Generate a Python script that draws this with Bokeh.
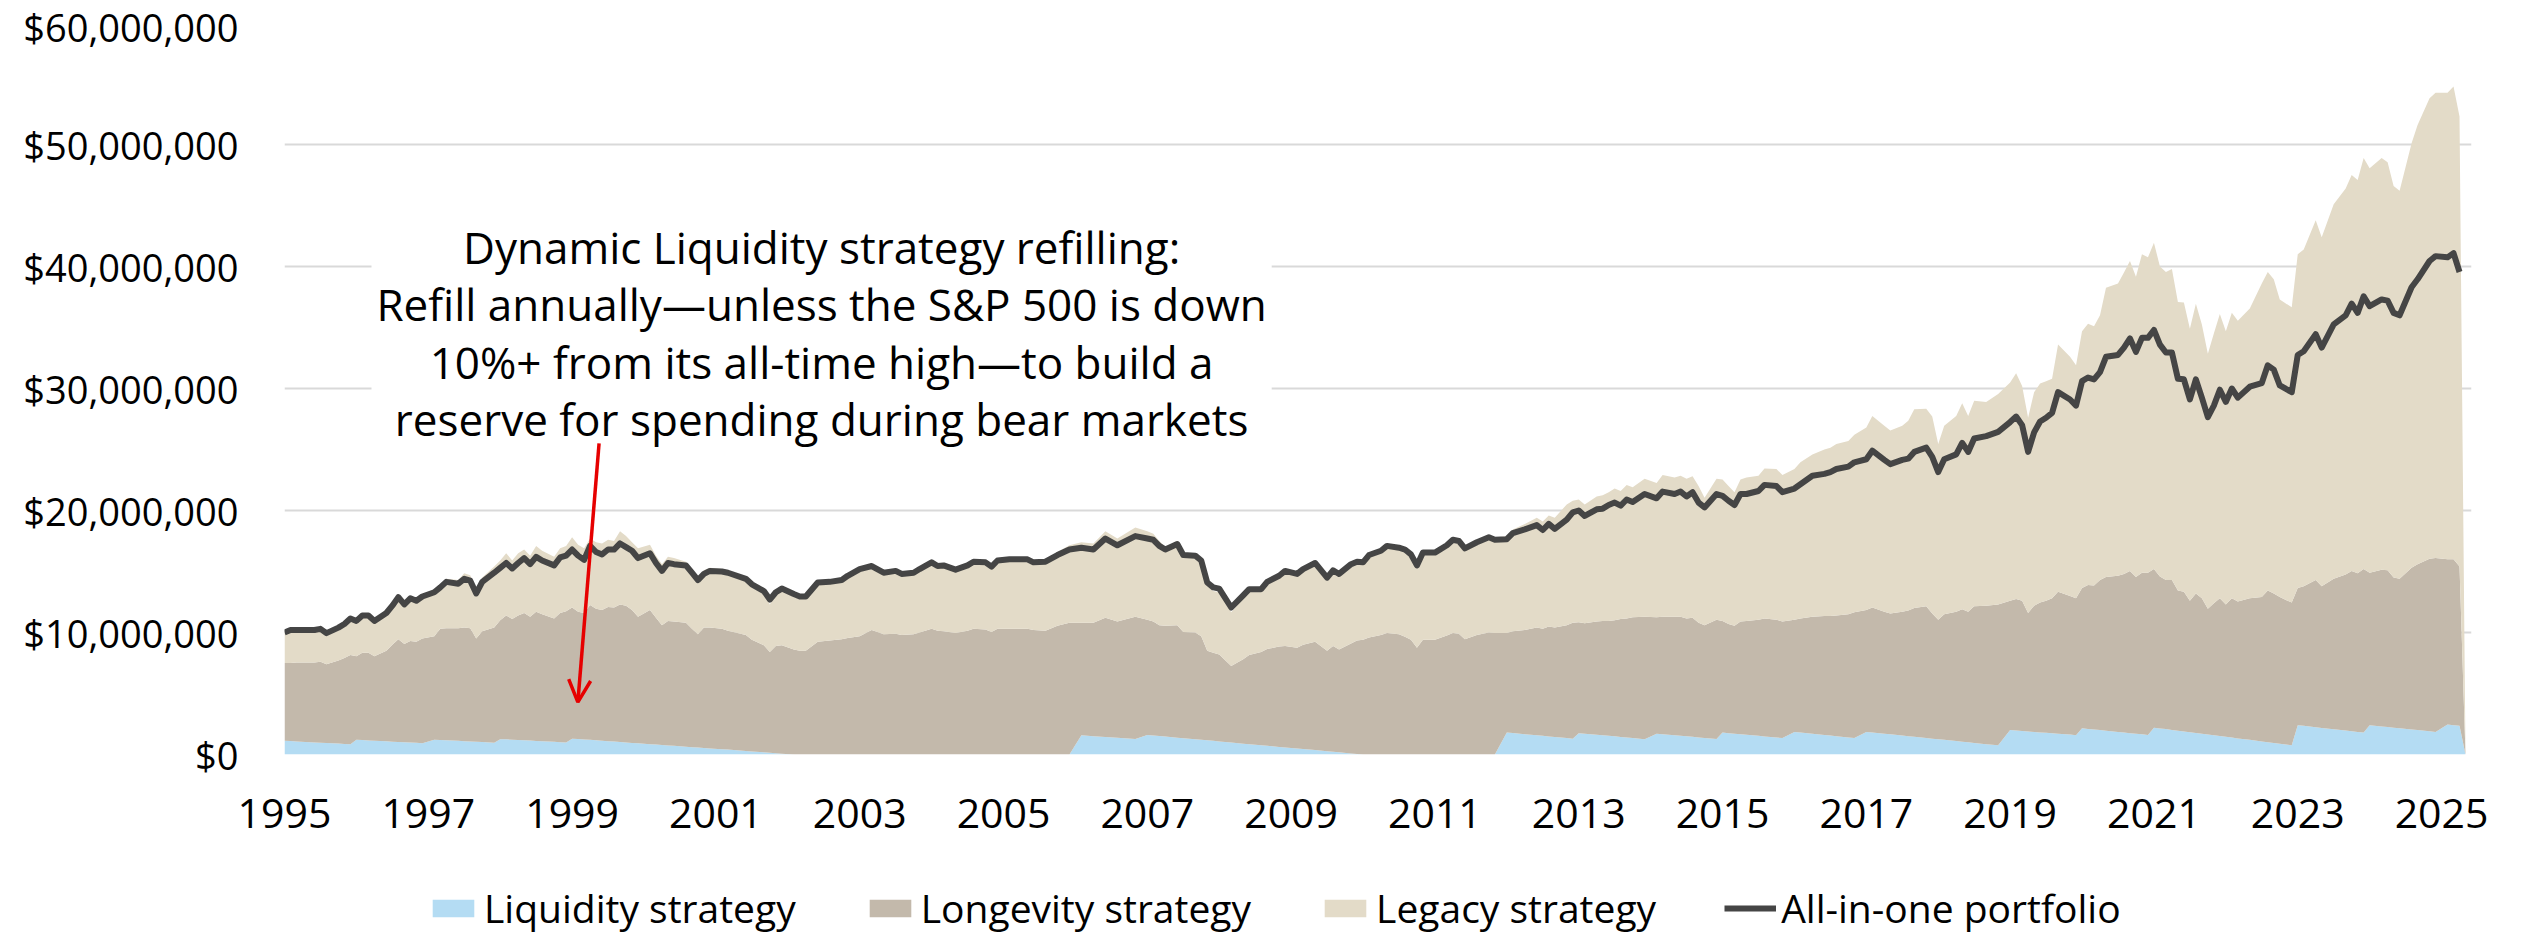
import math
from bokeh.plotting import figure
from bokeh.layouts import column
from bokeh.models import (ColumnDataSource, FixedTicker, Legend, LegendItem, Label,
                          Arrow, OpenHead, BoxAnnotation, Range1d)
from bokeh.embed import file_html
from bokeh.resources import INLINE

NAN = float("nan")

# months since Jan 1995 (read positions)
months = [
    0, 1, 2, 5, 6, 7, 9, 10, 11, 12, 13, 14, 15, 17, 18, 19, 20, 21, 22, 23, 25, 26, 27, 29, 30, 31, 32, 33, 35, 36,
    37, 38, 39, 40, 41, 42, 43, 45, 46, 47, 48, 49, 50, 51, 52, 53, 54, 55, 56, 57, 58, 59, 61, 62, 63, 64, 65, 67, 68, 69,
    70, 71, 73,
    74, 77, 78, 80, 81, 82, 83, 85, 86, 87, 89, 91, 93, 94, 96, 98, 100, 102, 103, 105,
    106, 108, 109, 110, 112, 114, 115, 117, 118, 119, 121, 124, 125, 127, 129, 131, 133, 135, 137, 139,
    142, 144, 145, 146, 147, 149, 150, 152, 153, 154, 155, 156, 158, 160, 161, 163, 164, 166, 167, 169,
    170, 172, 174, 175, 176, 178, 179, 180, 181, 183, 184, 186, 187, 188, 189, 190, 192, 194, 195, 196,
    197, 199, 201, 202, 204, 205, 207, 209, 210, 211, 212, 214, 215, 216, 217, 219,
    220, 221, 222, 223, 224, 225, 227, 229, 230, 232, 233, 234, 235, 236, 237, 239, 240, 241, 242, 243,
    244, 246, 247, 249, 250, 252, 253, 255, 257, 258, 259, 261, 262, 264, 265, 267, 268, 270, 271, 272,
    274, 275, 276, 277, 279, 280, 281, 282, 284, 286, 288, 289, 290, 291, 292, 293,
    294, 295, 296, 298, 299, 300, 301, 302, 303, 304, 306, 307, 308, 309, 310, 311, 312, 313, 314, 315,
    316, 317, 318, 319, 320, 321, 322, 323, 324, 325, 326, 328, 330, 331, 332, 333, 335, 336, 337, 339,
    340, 342, 344, 345, 346, 347, 348, 350, 351, 352, 353, 355, 356, 358, 359, 361, 362, 363, 364,
]

# values in millions of dollars
liquidity = [
    1.12, 1.10, 1.07, 0.99, 0.96, 0.94, 0.90, 0.87, 0.85, 1.20, 1.18, 1.15, 1.13, 1.08, 1.05, 1.03, 1.00, 0.98, 0.96, 0.93,
    1.21, 1.18, 1.16, 1.12, 1.09, 1.07, 1.05, 1.03, 0.97, 1.26, 1.24, 1.21, 1.19, 1.16, 1.14, 1.11, 1.09, 1.04, 1.01, 0.98,
    1.30, 1.27, 1.23, 1.20, 1.16, 1.13, 1.09, 1.06, 1.02, 0.99, 0.95, 0.92, 0.85, 0.81, 0.78, 0.74, 0.71, 0.64, 0.60, 0.57,
    0.53, 0.50, 0.43,
    0.40, 0.29, 0.25, 0.18, 0.14, 0.11, 0.07, 0, 0, 0, 0, 0, 0, 0, 0, 0, 0, 0, 0, 0,
    0, 0, 0, 0, 0, 0, 0, 0, 0, 0, 0, 0, 0, 0, 0, 0, 1.57, 1.50, 1.44, 1.37,
    1.27, 1.60, 1.56, 1.51, 1.47, 1.38, 1.34, 1.25, 1.20, 1.16, 1.12, 1.07, 0.98, 0.89, 0.85, 0.76, 0.71, 0.62, 0.58, 0.49,
    0.45, 0.36, 0.27, 0.22, 0.18, 0.09, 0.04, 0, 0, 0, 0, 0, 0, 0, 0, 0, 0, 0, 0, 0,
    0, 0, 0, 0, 1.80, 1.76, 1.67, 1.58, 1.53, 1.48, 1.44, 1.35, 1.30, 1.75, 1.71, 1.62,
    1.58, 1.53, 1.49, 1.44, 1.40, 1.35, 1.26, 1.71, 1.67, 1.58, 1.54, 1.49, 1.45, 1.40, 1.36, 1.27, 1.80, 1.75, 1.71, 1.66,
    1.62, 1.53, 1.48, 1.39, 1.35, 1.85, 1.80, 1.70, 1.60, 1.55, 1.50, 1.40, 1.35, 1.85, 1.80, 1.70, 1.65, 1.55, 1.50, 1.45,
    1.35, 1.30, 1.25, 1.20, 1.10, 1.05, 1.00, 0.95, 0.85, 0.75, 2.00, 1.97, 1.93, 1.89, 1.85, 1.81,
    1.78, 1.75, 1.71, 1.63, 1.58, 2.15, 2.10, 2.05, 2.00, 1.95, 1.85, 1.80, 1.75, 1.70, 1.65, 1.60, 2.20, 2.14, 2.08, 2.01,
    1.95, 1.89, 1.82, 1.76, 1.70, 1.64, 1.57, 1.51, 1.45, 1.39, 1.32, 1.20, 1.07, 1.01, 0.94, 0.88, 0.75, 2.40, 2.35, 2.24,
    2.18, 2.07, 1.96, 1.91, 1.85, 1.80, 2.40, 2.30, 2.25, 2.20, 2.15, 2.05, 2.00, 1.90, 1.85, 2.45, 2.40, 2.35, 0,
]

longevity = [
    6.38, 6.40, 6.48, 6.56, 6.64, 6.46, 6.80, 7.03, 7.30, 6.85, 7.17, 7.20, 6.92, 7.42, 7.95, 8.42, 8.05, 8.32, 8.29, 8.57,
    8.49, 9.12, 9.19, 9.23, 9.31, 9.28, 8.45, 9.07, 9.43, 9.74, 10.16, 9.89, 10.21, 10.44, 10.16, 10.59, 10.41, 10.11, 10.59, 10.77,
    10.75, 10.43, 10.37, 11.05, 10.79, 10.72, 11.01, 10.99, 11.28, 11.21, 10.90, 10.38, 11.00, 10.39, 9.82, 10.21, 10.19, 10.16, 9.70, 9.28,
    9.87, 9.90, 9.87,
    9.75, 9.51, 9.15, 8.77, 8.26, 8.79, 8.88, 8.60, 8.50, 8.50, 9.25, 9.35, 9.45, 9.55, 9.70, 10.20, 9.85, 9.90, 9.80, 9.85,
    10.00, 10.30, 10.15, 10.10, 9.95, 10.15, 10.30, 10.25, 10.05, 10.30, 10.30, 10.30, 10.20, 10.15, 10.55, 10.80, 9.23, 9.30, 9.76, 9.53,
    10.03, 9.45, 9.34, 9.09, 9.08, 9.22, 8.71, 8.75, 8.50, 7.34, 7.23, 7.13, 6.27, 6.91, 7.30, 7.64, 7.94, 8.23, 8.32, 8.26,
    8.55, 8.89, 8.23, 8.68, 8.42, 9.01, 9.31, 9.40, 9.60, 9.80, 9.95, 9.85, 9.65, 9.40, 8.75, 9.40, 9.40, 9.75, 9.95, 9.90,
    9.45, 9.80, 10.00, 9.95, 8.15, 8.34, 8.53, 8.82, 8.77, 9.02, 8.96, 9.25, 9.50, 9.10, 9.04, 9.28,
    9.37, 9.42, 9.51, 9.66, 9.75, 9.90, 10.04, 9.54, 9.63, 9.72, 9.76, 9.66, 9.75, 9.40, 9.24, 9.78, 9.15, 8.95, 8.84, 9.24,
    9.33, 9.52, 9.67, 9.66, 9.55, 9.20, 9.35, 9.60, 9.75, 9.80, 9.90, 10.10, 10.30, 10.00, 10.25, 10.00, 9.90, 10.15, 10.30, 10.55,
    10.80, 10.25, 9.80, 10.30, 10.60, 10.85, 10.70, 11.20, 11.35, 11.55, 10.60, 10.78, 10.67, 9.71, 10.35, 10.64,
    10.82, 11.05, 11.64, 11.37, 11.22, 11.50, 11.80, 11.80, 12.30, 12.60, 12.80, 13.00, 13.30, 12.85, 13.25, 13.30, 13.00, 12.46, 12.22, 12.29,
    11.50, 11.46, 10.78, 11.44, 11.10, 10.31, 10.83, 11.29, 10.85, 11.41, 11.23, 11.60, 11.83, 12.44, 12.26, 12.02, 11.70, 11.25, 11.45, 12.06,
    11.62, 12.33, 12.79, 13.14, 13.00, 13.40, 12.50, 12.85, 12.85, 12.30, 12.25, 13.25, 13.60, 14.15, 14.25, 13.55, 13.60, 13.05, 0,
]

legacy = [
    2.55, 2.75, 2.70, 2.70, 2.75, 2.60, 2.75, 2.85, 3.05, 2.95, 3.10, 3.10, 2.95, 3.20, 3.30, 3.55, 3.35, 3.60, 3.45, 3.55,
    3.75, 3.60, 4.05, 3.95, 4.45, 4.35, 4.00, 4.40, 5.00, 4.90, 5.10, 4.80, 5.10, 5.20, 5.00, 5.40, 5.20, 5.05, 5.30, 5.35,
    5.75, 5.50, 5.30, 5.45, 5.45, 5.45, 5.50, 5.45, 6.00, 5.70, 5.55, 5.60, 5.35, 5.10, 5.00, 5.25, 5.20, 5.00, 4.90, 4.65,
    4.70, 4.90, 4.90,
    4.85, 4.65, 4.55, 4.35, 3.90, 4.30, 4.55, 4.30, 4.25, 4.25, 4.85, 4.85, 4.90, 5.15, 5.60, 5.35, 5.15, 5.25, 5.10, 5.15,
    5.30, 5.55, 5.40, 5.50, 5.25, 5.45, 5.60, 5.60, 5.45, 5.70, 5.80, 5.80, 5.65, 5.75, 6.05, 6.35, 6.60, 6.50, 7.10, 6.80,
    7.30, 7.25, 7.20, 6.90, 6.45, 6.90, 6.35, 6.35, 6.20, 5.40, 5.05, 5.10, 4.40, 5.00, 5.25, 5.05, 5.45, 5.80, 6.15, 6.05,
    6.20, 6.50, 6.00, 6.20, 6.20, 6.55, 6.50, 6.40, 6.80, 7.00, 7.25, 7.20, 7.25, 7.05, 6.75, 7.20, 7.20, 7.50, 7.75, 7.70,
    7.50, 7.70, 7.95, 7.80, 7.95, 8.35, 8.70, 9.00, 8.80, 9.10, 9.00, 9.90, 10.00, 10.05, 9.75, 10.25,
    10.30, 10.55, 10.80, 10.50, 10.95, 10.65, 11.30, 11.00, 11.60, 11.40, 11.55, 11.45, 11.60, 11.20, 10.45, 11.55, 11.60, 11.30, 10.95, 11.65,
    11.75, 11.80, 12.30, 12.35, 12.00, 12.35, 12.80, 13.30, 13.65, 13.80, 14.05, 14.20, 14.55, 14.95, 15.70, 15.25, 15.00, 15.25, 15.55, 16.30,
    16.20, 16.15, 14.40, 15.45, 16.05, 16.90, 16.05, 16.85, 16.70, 17.25, 17.90, 18.50, 17.60, 16.00, 17.50, 17.95,
    18.00, 18.00, 20.25, 19.60, 19.10, 21.05, 21.40, 21.25, 21.70, 23.70, 23.95, 24.70, 25.40, 24.60, 26.10, 25.85, 26.75, 25.40, 25.25, 25.50,
    23.65, 23.70, 22.30, 23.75, 22.45, 20.90, 22.10, 23.30, 22.40, 23.40, 23.00, 23.75, 25.70, 26.10, 25.75, 24.40, 24.20, 27.35, 27.60, 29.50,
    28.60, 30.70, 31.65, 32.45, 32.25, 33.70, 33.15, 33.75, 33.45, 32.10, 31.80, 34.80, 36.00, 37.75, 38.15, 38.25, 38.75, 36.90, 0,
]

portfolio = [
    10.0, 10.2, 10.2, 10.2, 10.3, 9.95, 10.4, 10.7, 11.15, 10.95, 11.4, 11.4, 10.95, 11.6, 12.2, 12.9, 12.3, 12.8, 12.6, 12.95,
    13.3, 13.7, 14.15, 14.0, 14.4, 14.25, 13.2, 14.15, 14.9, 15.3, 15.7, 15.25, 15.7, 16.1, 15.6, 16.2, 15.9, 15.5, 16.15, 16.3,
    16.8, 16.3, 15.95, 17.1, 16.6, 16.4, 16.8, 16.8, 17.3, 17.0, 16.7, 16.1, 16.5, 15.7, 15.05, 15.7, 15.6, 15.5, 14.9, 14.3,
    14.8, 15.05, 15.0,
    14.9, 14.4, 13.95, 13.4, 12.7, 13.3, 13.6, 13.15, 12.95, 12.95, 14.1, 14.15, 14.3, 14.65, 15.2, 15.45, 14.9, 15.05, 14.8, 14.9,
    15.2, 15.75, 15.45, 15.5, 15.15, 15.5, 15.8, 15.75, 15.4, 15.9, 16.0, 16.0, 15.75, 15.8, 16.35, 16.8, 16.95, 16.8, 17.7, 17.15,
    17.9, 17.7, 17.6, 17.1, 16.8, 17.25, 16.35, 16.3, 15.9, 14.1, 13.7, 13.6, 12.05, 13.05, 13.55, 13.55, 14.15, 14.65, 15.05, 14.8,
    15.2, 15.7, 14.5, 15.1, 14.8, 15.6, 15.8, 15.75, 16.35, 16.7, 17.1, 16.95, 16.8, 16.4, 15.5, 16.55, 16.55, 17.15, 17.6, 17.5,
    16.9, 17.4, 17.8, 17.6, 17.65, 18.15, 18.45, 18.8, 18.4, 18.9, 18.5, 19.25, 19.85, 20.0, 19.55, 20.1,
    20.15, 20.45, 20.65, 20.4, 20.9, 20.7, 21.35, 21.0, 21.55, 21.35, 21.55, 21.15, 21.5, 20.65, 20.25, 21.35, 21.2, 20.8, 20.45, 21.35,
    21.35, 21.6, 22.1, 22.0, 21.5, 21.8, 22.15, 22.85, 23.0, 23.15, 23.4, 23.6, 23.95, 24.2, 24.9, 24.15, 23.8, 24.15, 24.25, 24.8,
    25.15, 24.4, 23.15, 24.2, 24.6, 25.55, 24.8, 25.9, 26.1, 26.45, 27.25, 27.7, 27.0, 24.8, 26.4, 27.3,
    27.6, 28.0, 29.7, 29.1, 28.6, 30.6, 30.9, 30.75, 31.35, 32.6, 32.75, 33.35, 34.1, 33.0, 34.15, 34.15, 34.8, 33.6, 32.95, 32.95,
    30.8, 30.75, 29.1, 30.75, 29.25, 27.65, 28.6, 29.9, 28.9, 30.0, 29.25, 30.15, 30.45, 31.9, 31.55, 30.25, 29.7, 32.75, 33.05, 34.45,
    33.35, 35.25, 36.0, 36.95, 36.2, 37.55, 36.75, 37.3, 37.2, 36.2, 36.0, 38.3, 38.95, 40.45, 40.85, 40.75, 41.1, 39.55, NAN,
]

series_names = ["Liquidity strategy", "Longevity strategy", "Legacy strategy", "All-in-one portfolio"]
year_ticks = list(range(1995, 2026, 2))
value_ticks = [0, 10, 20, 30, 40, 50, 60]
annotation_lines = [
    "Dynamic Liquidity strategy refilling:",
    "Refill annually\u2014unless the S&P 500 is down",
    "10%+ from its all-time high\u2014to build a",
    "reserve for spending during bear markets",
]

n = len(months)
assert len(liquidity) == n and len(longevity) == n and len(legacy) == n and len(portfolio) == n

FONT = "Open Sans"
C_LIQ = "#B4DCF3"
C_LONG = "#C3B9AB"
C_LEG = "#E3DBC8"
C_LINE = "#454545"
C_RED = "#E60000"
W = 2510
STACK = ["liquidity", "longevity", "legacy"]
STACK_COLORS = [C_LIQ, C_LONG, C_LEG]

src = ColumnDataSource(dict(
    x=[1995 + m / 12 for m in months],
    liquidity=liquidity, longevity=longevity, legacy=legacy, portfolio=portfolio,
))

p = figure(width=W, height=854, output_backend="svg", toolbar_location=None,
           x_range=Range1d(1995, 1995 + 365 / 12), y_range=Range1d(0, 60),
           min_border_left=284, min_border_right=39, min_border_top=22, min_border_bottom=100)
p.outline_line_color = None
p.background_fill_color = "white"
p.border_fill_color = "white"

areas = p.varea_stack(STACK, x="x", source=src, color=STACK_COLORS)
line = p.line("x", "portfolio", source=src, line_color=C_LINE, line_width=6, line_join="round")

# axes
p.xgrid.grid_line_color = None
p.ygrid.grid_line_color = "#D9D9D9"
p.ygrid.grid_line_width = 2
p.ygrid.ticker = FixedTicker(ticks=value_ticks)

p.yaxis.ticker = FixedTicker(ticks=value_ticks)
p.yaxis.major_label_overrides = {v: ("$0" if v == 0 else "${:,}".format(v * 1_000_000)) for v in value_ticks}
p.xaxis.ticker = FixedTicker(ticks=year_ticks)
p.xaxis.major_label_overrides = {y: str(y) for y in year_ticks}
for ax in (p.xaxis, p.yaxis):
    ax.axis_line_color = None
    ax.major_tick_line_color = None
    ax.minor_tick_line_color = None
    ax.major_label_text_font = FONT
    ax.major_label_text_color = "#000000"
p.yaxis.major_label_text_font_size = "38px"
p.yaxis.major_label_standoff = 40
p.xaxis.major_label_text_font_size = "41px"
p.xaxis.major_label_standoff = 38

# annotation with white backing box
p.add_layout(BoxAnnotation(left=1996.21, right=2008.73, bottom=24, top=46,
                           fill_color="white", fill_alpha=1.0, line_alpha=0))
for txt, yv in zip(annotation_lines, [41.56, 36.89, 32.21, 27.54]):
    p.add_layout(Label(x=2002.47, y=yv, text=txt, text_align="center", text_baseline="alphabetic",
                       text_font=FONT, text_font_size="44px", text_color="#000000"))
p.add_layout(Arrow(end=OpenHead(line_color=C_RED, line_width=3.5, size=22),
                   x_start=1999.375, y_start=25.5, x_end=1999.08, y_end=4.3,
                   line_color=C_RED, line_width=3.5))

# legend strip below the chart (same data/glyphs, drawn out of this strip's view)
pl = figure(width=W, height=80, output_backend="svg", toolbar_location=None,
            x_axis_type=None, y_axis_type=None, min_border=0,
            x_range=Range1d(0, 1), y_range=Range1d(0, 1))
pl.outline_line_color = None
pl.border_fill_color = "white"
pl.background_fill_color = "white"
k_areas = pl.varea_stack(STACK, x="x", source=src, color=STACK_COLORS)
k_line = pl.line("x", "portfolio", source=src, line_color=C_LINE, line_width=6)
legend = Legend(items=[LegendItem(label=series_names[0], renderers=[k_areas[0]]),
                       LegendItem(label=series_names[1], renderers=[k_areas[1]]),
                       LegendItem(label=series_names[2], renderers=[k_areas[2]]),
                       LegendItem(label=series_names[3], renderers=[k_line])],
                orientation="horizontal", location=(143, 0),
                label_text_font=FONT, label_text_font_size="39px", label_text_color="#000000",
                glyph_width=52, glyph_height=22, label_standoff=5, spacing=68,
                padding=0, margin=0, border_line_alpha=0, background_fill_alpha=0)
pl.add_layout(legend)

open("out.html", "w").write(file_html(column(p, pl), INLINE))
